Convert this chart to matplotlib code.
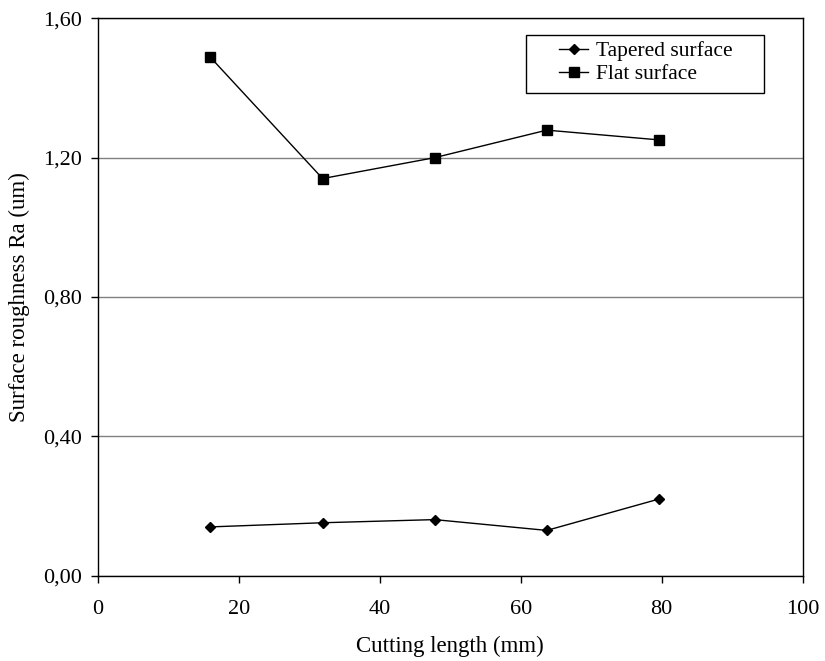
import numpy as np
import matplotlib
matplotlib.use("Agg")
import matplotlib.pyplot as plt
from matplotlib.ticker import FuncFormatter
from matplotlib.patches import Rectangle

plt.rcParams['font.family'] = ['Liberation Serif', 'DejaVu Serif']

cutting_length = [15.9, 31.9, 47.8, 63.7, 79.6]
tapered = [0.14, 0.152, 0.161, 0.130, 0.220]
flat = [1.49, 1.14, 1.20, 1.279, 1.251]

W, H = 825, 661
fig = plt.figure(figsize=(W/100, H/100), dpi=100)
ax = fig.add_axes([97.7/W, 1 - 575.7/H, (802.7-97.7)/W, (575.7-18.3)/H])

ax.plot(cutting_length, tapered, color='black', lw=1.0, marker='D', markersize=5.6,
        label='Tapered surface')
ax.plot(cutting_length, flat, color='black', lw=1.0, marker='s', markersize=7.2,
        label='Flat surface')

ax.set_xlim(0, 100)
ax.set_ylim(0, 1.6)
ax.set_xticks([0, 20, 40, 60, 80, 100])
ax.set_yticks([0, 0.4, 0.8, 1.2, 1.6])
ax.yaxis.set_major_formatter(FuncFormatter(lambda v, p: f"{v:.2f}".replace('.', ',')))
ax.yaxis.grid(True, color='#808080', lw=1.0)
ax.set_axisbelow(True)
ax.tick_params(axis='both', direction='out', length=4.7, width=1, labelsize=16, colors='black')
ax.tick_params(axis='x', pad=12.5)
ax.tick_params(axis='y', pad=6.8)
for s in ax.spines.values():
    s.set_color('black')
    s.set_linewidth(1.0)

ax.set_xlabel('Cutting length (mm)', fontsize=16.5)
ax.set_ylabel('Surface roughness Ra (um)', fontsize=16.5)
ax.xaxis.set_label_coords(0.5, (575.7-636)/557.4)
ax.yaxis.set_label_coords((30-97.7)/705, 0.5)

leg = ax.legend(loc='upper left', bbox_to_anchor=(559/W, 1 - 41/H),
                bbox_transform=fig.transFigure, fontsize=15.5, frameon=False,
                handlelength=1.35, handletextpad=0.37, borderpad=0,
                labelspacing=0.15, borderaxespad=0)
fig.patches.append(Rectangle((526/W, 1 - 93/H), (764-526)/W, (93-35)/H,
                             transform=fig.transFigure, fill=False,
                             edgecolor='black', lw=1.0, zorder=5))

fig.savefig('out.png', dpi=100)
